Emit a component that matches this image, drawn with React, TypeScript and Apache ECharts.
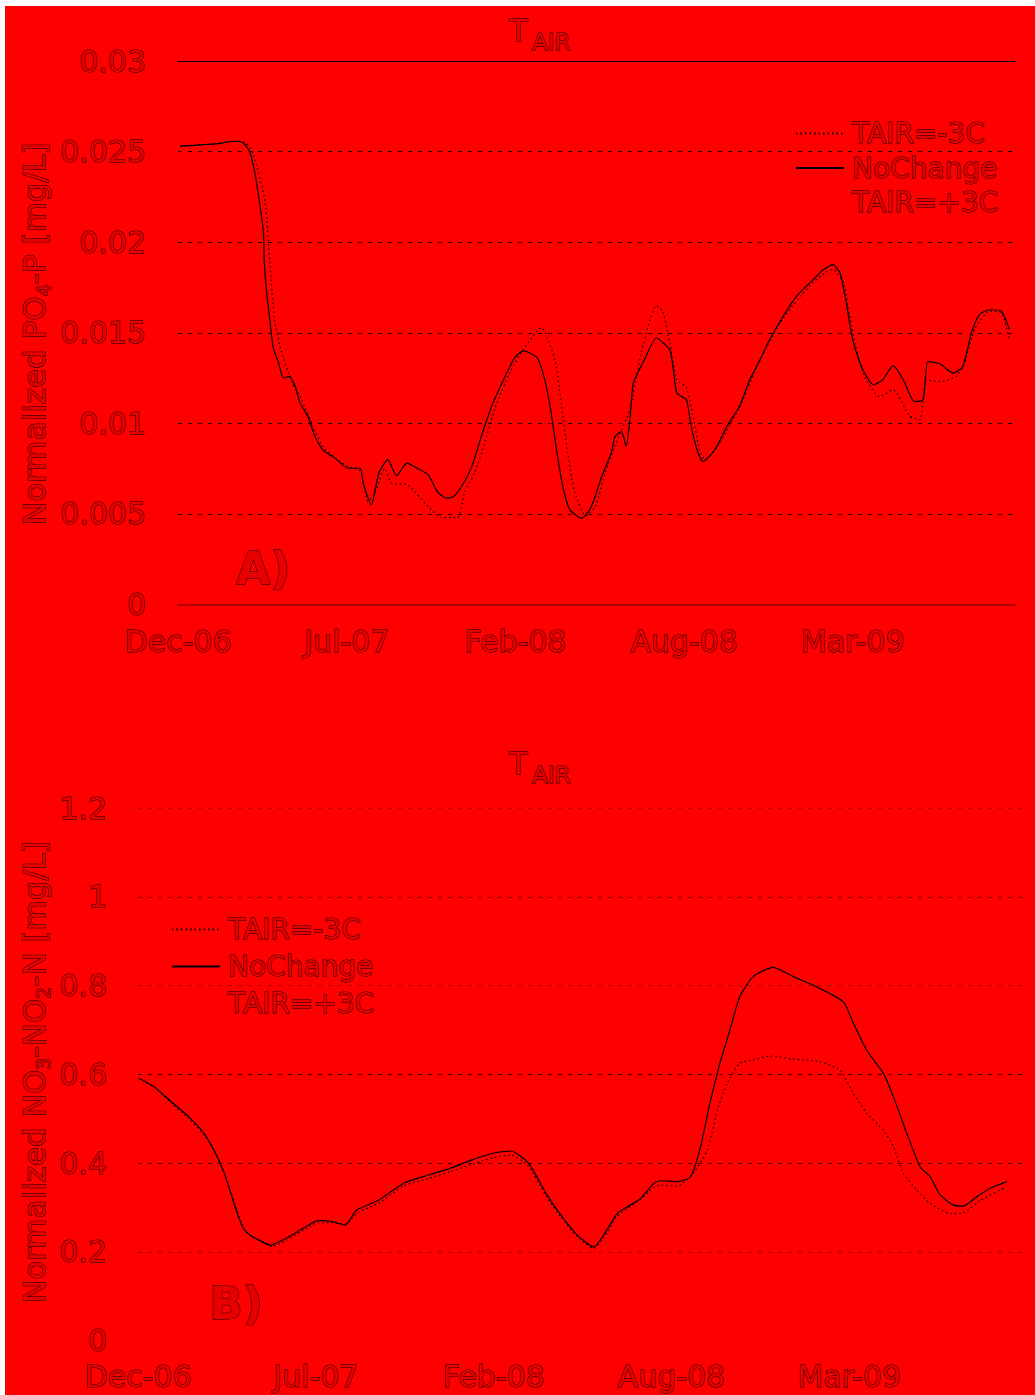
import React, { useEffect, useRef } from 'react';
import * as echarts from 'echarts';

// ---------- data ----------
const xTickLabels = ['Dec-06', 'Jul-07', 'Feb-08', 'Aug-08', 'Mar-09'];
const TICK_DAYS = 213;
const seriesNames = ['TAIR=-3C', 'NoChange', 'TAIR=+3C'];

// Panel A: normalized PO4-P [mg/L]  ([day, value])
const poNoChange: [number, number][] = [
  [3, 0.0253], [50, 0.02544], [69, 0.02557], [82, 0.0255], [91, 0.02494], [97, 0.02384], [103, 0.02218],
  [108, 0.02052], [109, 0.01887], [112, 0.01721], [116, 0.01572], [120, 0.01424], [127, 0.01334], [133, 0.01251],
  [141, 0.01259], [148, 0.01203], [154, 0.01113], [164, 0.01038], [173, 0.00927], [183, 0.00854], [198, 0.00808],
  [215, 0.00752], [230, 0.00752], [234, 0.0067], [244, 0.0055], [254, 0.0073], [265, 0.008], [276, 0.0071],
  [289, 0.0078], [303, 0.0075], [316, 0.00715], [328, 0.0062], [339, 0.00587], [348, 0.00596], [358, 0.00651],
  [371, 0.00761], [383, 0.00927], [396, 0.01093], [413, 0.01259], [425, 0.0136], [436, 0.014], [453, 0.01366],
  [461, 0.01277], [470, 0.01093], [478, 0.00854], [486, 0.00651], [495, 0.00522], [510, 0.00476], [522, 0.0054],
  [535, 0.00706], [547, 0.00835], [552, 0.00927], [560, 0.00955], [566, 0.00872], [571, 0.01038], [575, 0.01222],
  [589, 0.01351], [604, 0.01471], [621, 0.01406], [625, 0.01314], [630, 0.01167], [642, 0.0113], [646, 0.01038],
  [650, 0.00946], [657, 0.00835], [663, 0.00789], [678, 0.00854], [693, 0.00982], [709, 0.01093], [722, 0.0124],
  [735, 0.01351], [747, 0.01461], [764, 0.0159], [781, 0.01701], [798, 0.01775], [815, 0.01848], [827, 0.01876],
  [836, 0.0183], [844, 0.01664], [852, 0.01461], [863, 0.01314], [878, 0.01213], [890, 0.0124], [903, 0.01319],
  [916, 0.0124], [930, 0.0112], [941, 0.0113], [947, 0.01341], [962, 0.01329], [979, 0.01277], [991, 0.01314],
  [1002, 0.01498], [1012, 0.016], [1025, 0.01627], [1040, 0.01618], [1050, 0.01517],
];
const poMinus3: [number, number][] = [
  [3, 0.0253], [50, 0.02544], [70, 0.02557], [85, 0.0255], [95, 0.0249], [110, 0.0222], [116, 0.0189],
  [122, 0.0157], [131, 0.0139], [144, 0.01225], [154, 0.0115], [173, 0.0096], [183, 0.0087], [198, 0.0081],
  [215, 0.0076], [230, 0.0074], [240, 0.0057], [249, 0.0062], [261, 0.0075], [270, 0.0067], [290, 0.0066],
  [316, 0.0054], [333, 0.0048], [353, 0.0048], [362, 0.0062], [375, 0.0073], [388, 0.009], [400, 0.0108],
  [419, 0.0128], [438, 0.0142], [459, 0.01528], [476, 0.0135], [484, 0.0111], [492, 0.0084], [501, 0.0062],
  [515, 0.0049], [527, 0.0054], [539, 0.0072], [552, 0.0088], [571, 0.0108], [583, 0.0135], [596, 0.0157],
  [604, 0.0165], [612, 0.0162], [621, 0.01445], [630, 0.0124], [642, 0.012], [650, 0.0105], [659, 0.0085],
  [666, 0.008], [684, 0.0089], [709, 0.0109], [735, 0.0135], [764, 0.0158], [798, 0.0176], [814, 0.0182],
  [827, 0.0185], [840, 0.0178], [848, 0.016], [857, 0.014], [868, 0.0125], [886, 0.01148], [903, 0.01185],
  [924, 0.0104], [937, 0.0102], [945, 0.0124], [962, 0.0123], [983, 0.0126], [993, 0.0133], [1006, 0.0152],
  [1025, 0.0162], [1040, 0.0161], [1050, 0.0146],
];
const poPlus3: [number, number][] = [
  [3, 0.0253], [60, 0.0255], [85, 0.0254], [100, 0.0228], [110, 0.0185], [118, 0.015], [130, 0.0128],
  [150, 0.0118], [175, 0.0092], [200, 0.008], [230, 0.0074], [260, 0.0076], [290, 0.0076], [320, 0.0068],
  [345, 0.006], [370, 0.0074], [395, 0.0108], [430, 0.0139], [455, 0.0133], [478, 0.0082], [500, 0.0049],
  [520, 0.0052], [550, 0.009], [575, 0.012], [600, 0.0145], [630, 0.0115], [660, 0.008], [700, 0.01],
  [750, 0.0125], [800, 0.0178], [828, 0.0188], [850, 0.0145], [880, 0.0122], [905, 0.0133], [935, 0.0113],
  [960, 0.0133], [1000, 0.015], [1025, 0.0163], [1050, 0.0152],
];

// Panel B: normalized NO3-NO2-N [mg/L]
const noNoChange: [number, number][] = [
  [1, 0.591], [19, 0.572], [40, 0.538], [61, 0.504], [79, 0.467], [91, 0.429], [102, 0.384], [110, 0.339],
  [119, 0.286], [126, 0.253], [134, 0.238], [151, 0.22], [159, 0.215], [177, 0.23], [198, 0.253], [216, 0.27],
  [233, 0.268], [248, 0.26], [262, 0.294], [288, 0.316], [318, 0.354], [348, 0.373], [374, 0.388], [400, 0.407],
  [425, 0.422], [447, 0.427], [468, 0.399], [489, 0.331], [506, 0.284], [526, 0.238], [546, 0.211], [558, 0.238],
  [574, 0.286], [586, 0.301], [602, 0.32], [618, 0.354], [626, 0.36], [646, 0.358], [662, 0.369], [674, 0.437],
  [685, 0.534], [697, 0.624], [709, 0.699], [721, 0.775], [737, 0.82], [761, 0.841], [785, 0.82], [813, 0.797],
  [845, 0.763], [857, 0.715], [873, 0.654], [893, 0.602], [905, 0.549], [921, 0.467], [937, 0.391], [949, 0.369],
  [961, 0.328], [977, 0.305], [989, 0.303], [1005, 0.324], [1021, 0.343], [1041, 0.358],
];
const noMinus3: [number, number][] = [
  [1, 0.591], [20, 0.57], [40, 0.535], [61, 0.5], [80, 0.462], [92, 0.425], [103, 0.378], [112, 0.33],
  [121, 0.28], [128, 0.25], [136, 0.235], [152, 0.22], [160, 0.212], [178, 0.226], [199, 0.25], [216, 0.265],
  [233, 0.265], [248, 0.262], [263, 0.288], [289, 0.31], [318, 0.348], [348, 0.365], [374, 0.38], [400, 0.397],
  [425, 0.412], [447, 0.418], [468, 0.392], [489, 0.325], [506, 0.28], [526, 0.235], [546, 0.208], [558, 0.232],
  [574, 0.28], [586, 0.297], [602, 0.318], [618, 0.345], [626, 0.35], [646, 0.348], [665, 0.377], [682, 0.429],
  [694, 0.519], [706, 0.58], [721, 0.625], [737, 0.632], [757, 0.641], [785, 0.634], [817, 0.628], [841, 0.609],
  [857, 0.557], [873, 0.512], [893, 0.474], [905, 0.437], [917, 0.377], [933, 0.339], [949, 0.309], [973, 0.286],
  [989, 0.288], [1009, 0.316], [1037, 0.343],
];
const noPlus3: [number, number][] = [
  [1, 0.591], [40, 0.53], [80, 0.455], [110, 0.33], [130, 0.24], [160, 0.21], [200, 0.25], [235, 0.27],
  [262, 0.3], [320, 0.36], [380, 0.395], [430, 0.43], [450, 0.43], [490, 0.33], [540, 0.215], [580, 0.29],
  [620, 0.36], [660, 0.375], [690, 0.55], [720, 0.8], [760, 0.9], [820, 0.86], [850, 0.8], [900, 0.6],
  [940, 0.36], [980, 0.3], [1020, 0.34], [1041, 0.36],
];

// ---------- styling ----------
const OX = 5; // chart container offset on the page
const OY = 6;
const BG = '#ff0000';
const FONT = '"DejaVu Sans", Verdana, sans-serif';
const TXT_FILL = '#e80000';
const TXT_EDGE = '#000000';

const textLook = { color: TXT_FILL, textBorderColor: TXT_EDGE, textBorderWidth: 1, fontFamily: FONT };

function measure(text: string, size: number, weight = 'normal') {
  const ctx = document.createElement('canvas').getContext('2d');
  if (!ctx) return text.length * size * 0.6;
  ctx.font = `${weight} ${size}px ${FONT}`;
  return ctx.measureText(text).width;
}

function mixedText(pieces: { t: string; size: number; dy: number }[]) {
  let x = 0;
  return pieces.map((p) => {
    const el = {
      type: 'text',
      x,
      y: p.dy,
      style: {
        text: p.t,
        font: `${p.size}px ${FONT}`,
        fill: TXT_FILL,
        stroke: TXT_EDGE,
        lineWidth: 1,
        align: 'left',
        verticalAlign: 'middle',
      },
    };
    x += measure(p.t, p.size);
    return el;
  });
}

function plainText(text: string, x: number, y: number, size: number, weight = 'normal') {
  return {
    type: 'text',
    x,
    y,
    style: {
      text,
      font: `${weight} ${size}px ${FONT}`,
      fill: TXT_FILL,
      stroke: TXT_EDGE,
      lineWidth: 1,
      align: 'left',
      verticalAlign: 'middle',
    },
  };
}

const xLabelFormatter = (v: number) => (v % TICK_DAYS === 0 ? xTickLabels[v / TICK_DAYS] ?? '' : '');

export default function App() {
  const ref = useRef<HTMLDivElement>(null);

  useEffect(() => {
    if (!ref.current) return;
    const chart = echarts.init(ref.current, undefined, { renderer: 'svg' });

    const lineStyles = [
      { color: '#000', width: 1.2, type: [1.5, 3] },
      { color: '#000', width: 1.2, type: 'solid' },
      { color: BG, width: 1.2, type: 'solid' },
    ];

    const mk = (name: string, data: [number, number][], xi: number, yi: number, idx: number) => ({
      name,
      type: 'line',
      xAxisIndex: xi,
      yAxisIndex: yi,
      data,
      showSymbol: false,
      symbol: 'none',
      legendIcon: 'none',
      smooth: 0.2,
      lineStyle: lineStyles[idx],
      itemStyle: { color: lineStyles[idx].color },
      emphasis: { disabled: true },
      z: idx === 1 ? 4 : 3,
    });

    const legendCommon = {
      orient: 'vertical',
      data: seriesNames,
      itemWidth: 48,
      itemHeight: 14,
      selectedMode: false,
      itemStyle: { color: 'rgba(0,0,0,0)', borderColor: 'rgba(0,0,0,0)', borderWidth: 0 },
      textStyle: { ...textLook, fontSize: 28, lineHeight: 28, padding: [0, 0, 0, 3] },
    };

    chart.setOption({
      animation: false,
      backgroundColor: BG,
      grid: [
        { left: 173, top: 55, width: 837, height: 543.5, outerBoundsMode: 'none', containLabel: false },
        { left: 133, top: 802, width: 889, height: 532.5, outerBoundsMode: 'none', containLabel: false },
      ],
      xAxis: [
        {
          type: 'value', gridIndex: 0, min: 0, max: 1057, interval: TICK_DAYS, position: 'bottom',
          axisLine: { show: true, onZero: false, lineStyle: { color: '#b00000', width: 2 } },
          axisTick: { show: false }, splitLine: { show: false },
          axisLabel: { ...textLook, fontSize: 30, margin: 22, formatter: xLabelFormatter, showMaxLabel: false },
        },
        {
          type: 'value', gridIndex: 0, min: 0, max: 1057, position: 'top',
          axisLine: { show: true, onZero: false, lineStyle: { color: '#000', width: 1.2 } },
          axisTick: { show: false }, splitLine: { show: false }, axisLabel: { show: false },
        },
        {
          type: 'value', gridIndex: 1, min: 0, max: 1065, interval: TICK_DAYS, position: 'bottom',
          axisLine: { show: false }, axisTick: { show: false }, splitLine: { show: false },
          axisLabel: { ...textLook, fontSize: 30, margin: 21, formatter: xLabelFormatter, showMaxLabel: false },
        },
      ],
      yAxis: [
        {
          type: 'value', gridIndex: 0, min: 0, max: 0.03, interval: 0.005,
          axisLine: { show: false }, axisTick: { show: false },
          axisLabel: { ...textLook, fontSize: 30, margin: 32, formatter: (v: number) => String(+v.toFixed(3)) },
          splitLine: { show: true, lineStyle: { color: 'rgba(0,0,0,0.85)', width: 1, type: [4, 6] } },
        },
        {
          type: 'value', gridIndex: 1, min: 0, max: 1.2, interval: 0.2,
          axisLine: { show: false }, axisTick: { show: false },
          axisLabel: { ...textLook, fontSize: 30, margin: 31, formatter: (v: number) => String(+v.toFixed(1)) },
          splitLine: {
            show: true,
            lineStyle: {
              color: ['rgba(0,0,0,0)', 'rgba(0,0,0,0.35)', 'rgba(0,0,0,0.75)', 'rgba(0,0,0,0.8)', 'rgba(0,0,0,0.3)', 'rgba(0,0,0,0.5)', 'rgba(0,0,0,0.25)'],
              width: 1,
              type: [4, 6],
            },
          },
        },
      ],
      legend: [
        { ...legendCommon, left: 785, top: 108, itemGap: 5.5 },
        { ...legendCommon, left: 161, top: 904, itemGap: 8 },
      ],
      series: [
        mk(seriesNames[2], poPlus3, 0, 0, 2),
        mk(seriesNames[0], poMinus3, 0, 0, 0),
        mk(seriesNames[1], poNoChange, 0, 0, 1),
        mk(seriesNames[2], noPlus3, 2, 1, 2),
        mk(seriesNames[0], noMinus3, 2, 1, 0),
        mk(seriesNames[1], noNoChange, 2, 1, 1),
      ],
      graphic: [
        // titles
        plainText('T', 509 - OX, 24.7, 30),
        plainText('AIR', 532 - OX, 36, 23),
        plainText('T', 509 - OX, 757.7, 30),
        plainText('AIR', 532 - OX, 768.5, 23),
        // panel letters
        plainText('A)', 236 - OX, 562, 44, 'bold'),
        plainText('B)', 209 - OX, 1297, 44, 'bold'),
        // y-axis names (rotated)
        {
          type: 'group', x: 33.5 - OX, y: 525 - OY, rotation: Math.PI / 2,
          children: mixedText([
            { t: 'Normalized PO', size: 31, dy: 0 },
            { t: '4', size: 19, dy: 9 },
            { t: '-P [mg/L]', size: 31, dy: 0 },
          ]),
        },
        {
          type: 'group', x: 33.5 - OX, y: 1303 - OY, rotation: Math.PI / 2,
          children: mixedText([
            { t: 'Normalized NO', size: 31, dy: 0 },
            { t: '3', size: 19, dy: 9 },
            { t: '-NO', size: 31, dy: 0 },
            { t: '2', size: 19, dy: 9 },
            { t: '-N [mg/L]', size: 31, dy: 0 },
          ]),
        },
      ],
    });

    return () => chart.dispose();
  }, []);

  return (
    <div
      ref={ref}
      style={{ position: 'absolute', left: OX, top: OY, width: 1035 - OX, height: 1395 - OY, background: BG }}
    />
  );
}
